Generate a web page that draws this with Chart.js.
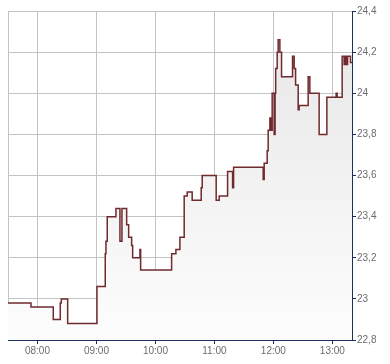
<!DOCTYPE html>
<html>
<head>
<meta charset="utf-8">
<script src="https://cdn.jsdelivr.net/npm/chart.js@4/dist/chart.umd.min.js"></script>
<style>
  html, body { margin: 0; padding: 0; background: #ffffff; }
  #wrap { width: 390px; height: 364px; }
</style>
</head>
<body>
<div id="wrap"><canvas id="c" width="390" height="364"></canvas></div>
<script>
// Time of each price change (HH:MM:SS) and the price from then on
const times = [
  "07:30:00","07:53:23","08:16:04","08:23:11","08:24:12","08:30:42","09:00:30",
  "09:08:57","09:09:40","09:10:59","09:19:50","09:23:54","09:25:56","09:30:43",
  "09:32:45","09:35:48","09:36:49","09:44:14","09:44:57","10:16:28","10:20:50",
  "10:24:54","10:29:16","10:32:19","10:37:24","10:46:34","10:47:35","11:01:49",
  "11:04:52","11:13:25","11:18:30","11:19:31","11:49:38","11:50:39","11:53:42",
  "11:54:43","11:56:27","11:57:27","11:58:47","12:00:48","12:01:44","12:02:20",
  "12:03:52","12:04:52","12:06:37","12:08:20","12:19:30","12:21:10","12:22:36",
  "12:25:15","12:26:15","12:35:24","12:37:07","12:46:34","12:54:25","13:03:53",
  "13:04:53","13:10:00","13:12:00","13:13:00","13:14:26","13:15:28","13:18:30",
  "13:20:00"
];
const prices = [
  22.98,22.96,22.90,22.98,23.00,22.88,23.06,
  23.22,23.28,23.40,23.44,23.28,23.44,23.36,
  23.30,23.26,23.20,23.24,23.14,23.22,23.24,
  23.30,23.50,23.52,23.48,23.54,23.60,23.48,
  23.50,23.62,23.54,23.64,23.58,23.66,23.72,
  23.82,23.88,23.82,24.00,23.80,24.00,24.12,
  24.20,24.26,24.20,24.08,24.18,24.12,24.04,
  23.92,23.94,24.08,24.00,23.80,23.98,24.00,
  23.98,24.18,24.14,24.18,24.14,24.18,24.15,
  24.15
];
const xTickLabels = ["08:00","09:00","10:00","11:00","12:00","13:00"];
const xRange = ["07:30","13:20"];
const yMin = 22.8, yMax = 24.4, yStep = 0.2;

function toMin(s) {
  const p = s.split(":").map(Number);
  return p[0] * 60 + p[1] + (p[2] || 0) / 60;
}
function fmtMin(m) {
  const h = Math.floor(m / 60), mm = Math.round(m - h * 60);
  return String(h).padStart(2, "0") + ":" + String(mm).padStart(2, "0");
}

const points = times.map((t, i) => ({ x: toMin(t), y: prices[i] }));

const borderPlugin = {
  id: "leftBorder",
  beforeDatasetsDraw(chart) {
    const { ctx, chartArea } = chart;
    ctx.save();
    ctx.strokeStyle = "#c3c3c3";
    ctx.lineWidth = 1;
    ctx.beginPath();
    ctx.moveTo(chartArea.left + 0.5, chartArea.top);
    ctx.lineTo(chartArea.left + 0.5, chartArea.bottom);
    ctx.stroke();
    ctx.restore();
  }
};

const font = { family: "'Liberation Sans', Arial, sans-serif", size: 10 };

new Chart(document.getElementById("c"), {
  type: "line",
  data: {
    datasets: [{
      data: points,
      stepped: true,
      borderColor: "#702a2e",
      borderWidth: 1.5,
      pointRadius: 0,
      fill: "start",
      backgroundColor(ctx) {
        const ca = ctx.chart.chartArea;
        if (!ca) return "rgba(0,0,0,0)";
        const g = ctx.chart.ctx.createLinearGradient(0, ca.top, 0, ca.bottom);
        g.addColorStop(0, "#e6e6e6");
        g.addColorStop(1, "#fdfdfd");
        return g;
      }
    }]
  },
  options: {
    responsive: false,
    devicePixelRatio: 1,
    animation: false,
    layout: { padding: { left: 8, top: 11, right: 0, bottom: 0 } },
    plugins: { legend: { display: false }, tooltip: { enabled: false } },
    scales: {
      x: {
        type: "linear",
        min: toMin(xRange[0]),
        max: toMin(xRange[1]),
        afterBuildTicks(scale) {
          scale.ticks = xTickLabels.map(l => ({ value: toMin(l) }));
        },
        afterFit(scale) { scale.height = 24; },
        ticks: {
          callback: v => fmtMin(v),
          color: "#6b6b6b",
          font,
          padding: 1,
          maxRotation: 0,
          autoSkip: false
        },
        grid: { color: "#c3c3c3", lineWidth: 1, tickLength: 4, tickColor: "#1b2f5e" },
        border: { color: "#1b2f5e", width: 1 }
      },
      y: {
        position: "right",
        min: yMin,
        max: yMax,
        afterFit(scale) { scale.width = 38; },
        ticks: {
          stepSize: yStep,
          callback: v => String(parseFloat(v.toFixed(1))).replace(".", ","),
          color: "#6b6b6b",
          font,
          padding: 1
        },
        grid: { color: "#c3c3c3", lineWidth: 1, tickLength: 4, tickColor: "#1b2f5e" },
        border: { color: "#1b2f5e", width: 1 }
      }
    }
  },
  plugins: [borderPlugin]
});
</script>
</body>
</html>
